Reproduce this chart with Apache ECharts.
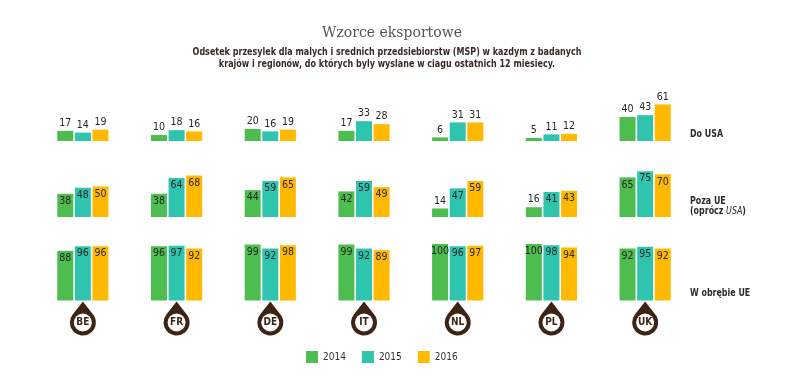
<!DOCTYPE html>
<html>
<head>
<meta charset="utf-8">
<title>Wzorce eksportowe</title>
<script src="https://cdn.jsdelivr.net/npm/echarts@6/dist/echarts.min.js"></script>
<style>
html,body{margin:0;padding:0;background:#fff;}
#main{width:792px;height:392px;}
</style>
</head>
<body>
<div id="main"></div>
<script>
'use strict'
// dane
var countries = ['BE', 'FR', 'DE', 'IT', 'NL', 'PL', 'UK'];
var years = ['2014', '2015', '2016'];
var rowNames = ['Do USA', 'Poza UE', 'W obrębie UE'];

var usa2014 = [17, 10, 20, 17, 6, 5, 40];
var usa2015 = [14, 18, 16, 33, 31, 11, 43];
var usa2016 = [19, 16, 19, 28, 31, 12, 61];

var pozaUE2014 = [38, 38, 44, 42, 14, 16, 65];
var pozaUE2015 = [48, 64, 59, 59, 47, 41, 75];
var pozaUE2016 = [50, 68, 65, 49, 59, 43, 70];

var wUE2014 = [88, 96, 99, 99, 100, 100, 92];
var wUE2015 = [96, 97, 92, 92, 96, 98, 95];
var wUE2016 = [96, 92, 98, 89, 97, 94, 92];

window.onload = function () {
    var myChart = echarts.init(document.getElementById('main'));

    var colors = ['#4dbd4f', '#2ec4ae', '#ffba00'];
    var brown = '#3d2414';
    var narrow = "'Liberation Sans Narrow', 'DejaVu Sans Condensed', sans-serif";

    var rows = [
        [usa2014, usa2015, usa2016],
        [pozaUE2014, pozaUE2015, pozaUE2016],
        [wUE2014, wUE2015, wUE2016]
    ];
    // kazdy wiersz = osobny grid
    var grids = [
        {left: 36, right: 100, top: 81, height: 60},
        {left: 36, right: 100, top: 156, height: 61},
        {left: 36, right: 100, top: 244, height: 56.5}
    ];

    var xAxes = [], yAxes = [], series = [];
    for (var r = 0; r < rows.length; r++) {
        xAxes.push({
            type: 'category', gridIndex: r, data: countries,
            axisLine: {show: false}, axisTick: {show: false}, axisLabel: {show: false}
        });
        yAxes.push({
            type: 'value', gridIndex: r, min: 0, max: 100,
            axisLine: {show: false}, axisTick: {show: false},
            axisLabel: {show: false}, splitLine: {show: false}
        });
        for (var s = 0; s < years.length; s++) {
            var data = rows[r][s].map(function (v) {
                var above = (r === 0) || v < 25;
                return {value: v, label: {position: above ? 'top' : 'insideTop'}};
            });
            series.push({
                name: years[s], type: 'bar',
                xAxisIndex: r, yAxisIndex: r,
                barWidth: 16, barGap: '10%',
                itemStyle: {color: colors[s]},
                label: {
                    show: true, distance: 2,
                    color: '#262626', fontSize: 10.5, fontFamily: narrow
                },
                data: data
            });
        }
    }

    // znaczniki krajow (kropla + bialy srodek)
    var zeros = countries.map(function () { return 0; });
    series.push({
        type: 'scatter', xAxisIndex: 2, yAxisIndex: 2, clip: false, silent: true, z: 5,
        symbol: 'path://M13,0L23.2,12.95A13,13 0 1 1 2.8,12.95Z',
        symbolSize: [26, 34], symbolOffset: [0, 18],
        itemStyle: {color: brown, opacity: 1},
        data: zeros
    });
    series.push({
        type: 'scatter', xAxisIndex: 2, yAxisIndex: 2, clip: false, silent: true, z: 6,
        symbol: 'circle', symbolSize: 18, symbolOffset: [0, 22],
        itemStyle: {color: '#fff', opacity: 1},
        label: {
            show: true, position: 'inside',
            formatter: function (p) { return p.name; },
            color: brown, fontSize: 10, fontWeight: 'bold', fontFamily: narrow
        },
        data: zeros
    });

    function rightLabel(txt, y) {
        return {
            type: 'text', x: 690, y: y, scaleX: 0.8, z: 10,
            style: {
                text: txt, fontSize: 11, fontWeight: 'bold', fill: '#2b2b2b',
                fontFamily: narrow, verticalAlign: 'middle',
                rich: {i: {fontStyle: 'italic', fontWeight: 'normal', fontSize: 11, fontFamily: narrow}}
            }
        };
    }

    var option = {
        backgroundColor: '#fff',
        animation: false,
        title: {
            text: 'Wzorce eksportowe',
            left: 387, top: 21, textAlign: 'center',
            textStyle: {fontFamily: "'DejaVu Serif', 'Liberation Serif', serif", fontWeight: 'normal', fontSize: 14, color: '#555'}
        },
        legend: {
            data: years, left: 306, top: 351, padding: 0,
            icon: 'rect', itemWidth: 12, itemHeight: 12, itemGap: 16,
            textStyle: {fontSize: 10, color: '#333', fontFamily: narrow}
        },
        grid: grids,
        xAxis: xAxes,
        yAxis: yAxes,
        series: series,
        graphic: [
            {
                type: 'text', x: 387, y: 58, scaleX: 0.81,
                style: {
                    text: 'Odsetek przesylek dla malych i srednich przedsiebiorstw (MSP) w kazdym z badanych\nkrajów i regionów, do których byly wyslane w ciagu ostatnich 12 miesiecy.',
                    align: 'center', verticalAlign: 'middle', lineHeight: 12,
                    fontFamily: narrow, fontWeight: 'bold', fontSize: 11, fill: '#3a2a22'
                }
            },
            rightLabel(rowNames[0], 134),
            rightLabel(rowNames[1], 201),
            {
                type: 'text', x: 690, y: 211, scaleX: 0.8, z: 10,
                style: {
                    text: '(oprócz {i|USA})', fontSize: 11, fontWeight: 'bold', fill: '#2b2b2b',
                    fontFamily: narrow, verticalAlign: 'middle',
                    rich: {i: {fontStyle: 'italic', fontWeight: 'normal', fontSize: 11, fontFamily: narrow, color: '#2b2b2b'}}
                }
            },
            rightLabel(rowNames[2], 293)
        ]
    };
    myChart.setOption(option);
};
</script>
</body>
</html>
